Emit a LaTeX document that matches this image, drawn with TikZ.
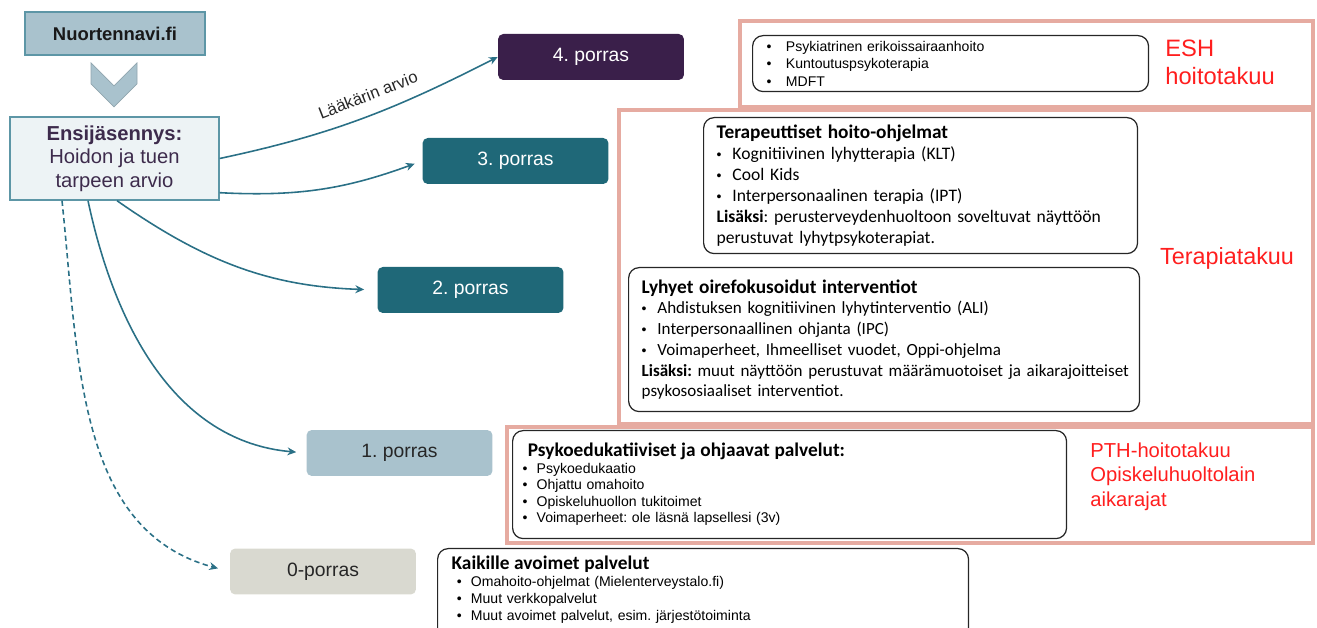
\documentclass[tikz,border=0pt]{standalone}
\usepackage{fontspec}
\setmainfont{Liberation Sans}
\newfontfamily\calfont{Carlito}
\usetikzlibrary{arrows.meta}
\frenchspacing

\definecolor{tealdark}{HTML}{1F6878}
\definecolor{arrowteal}{HTML}{2A7086}
\definecolor{plum}{HTML}{3A1F4A}
\definecolor{greyblue}{HTML}{A9C2CD}
\definecolor{stone}{HTML}{D9D9D0}
\definecolor{salmon}{HTML}{E6ABA1}
\definecolor{paleblue}{HTML}{EDF3F5}
\definecolor{edgeblue}{HTML}{5D96A6}
\definecolor{inkpurple}{HTML}{3D2B4C}
\definecolor{takuured}{HTML}{FF1E1E}

\newcommand{\bul}[1][9pt]{\makebox[#1][l]{\textbullet}}
\newcommand{\cbul}{\makebox[9pt][l]{\rmfamily\fontsize{8}{8}\selectfont\textbullet}}

\tikzset{
  porras/.style={rounded corners=3pt, minimum width=3.72cm, minimum height=0.92cm,
                 font=\fontsize{11}{13}\selectfont},
  listbox/.style={draw=black!85, line width=0.7pt, rounded corners=6pt,
                  anchor=north west, align=left, inner ysep=2pt},
  frame/.style={draw=salmon, line width=2pt},
  takuu/.style={text=takuured, align=left, inner sep=0pt},
}

\begin{document}
\begin{tikzpicture}[x=0.02cm, y=0.02cm, >={Stealth[length=5pt,width=4.5pt]}]
  \useasboundingbox (0,0) rectangle (1317,628);

  \node[draw=edgeblue, fill=greyblue, line width=0.8pt, minimum width=3.6cm, minimum height=0.86cm,
        font=\fontsize{10.5}{12}\selectfont\bfseries, text=black!90] (nav) at (115,594.5) {Nuortennavi.fi};
  \draw[fill=greyblue, draw=greyblue!85!black, line width=0.4pt]
    (91,565) -- (114,542) -- (137,565) -- (137,544) -- (114,521) -- (91,544) -- cycle;
  \node[draw=edgeblue, fill=paleblue, line width=0.8pt, minimum width=4.18cm, minimum height=1.66cm,
        align=center, text=inkpurple, font=\fontsize{11.5}{13.4}\selectfont]
       (ens) at (114.5,469.5) {\textbf{Ensijäsennys:}\\Hoidon ja tuen\\tarpeen arvio};

  \node[porras, fill=plum, text=white]       (p4) at (591,571)   {4. porras};
  \node[porras, fill=tealdark, text=white]   (p3) at (515.5,467) {3. porras};
  \node[porras, fill=tealdark, text=white]   (p2) at (470.5,338) {2. porras};
  \node[porras, fill=greyblue, text=black!85] (p1) at (399.5,175) {1. porras};
  \node[porras, fill=stone, text=black!85]   (p0) at (323,56.5)  {0-porras};

  \draw[frame] (740,607) rectangle (1313,521);
  \draw[frame] (619,518) rectangle (1313,204);
  \draw[frame] (507,201) rectangle (1313,85);

  \node[listbox, text width=7.36cm, inner xsep=0.28cm, minimum height=1.12cm,
        font=\fontsize{8}{10}\selectfont] (esh) at (752,593)
       {\bul[11pt]Psykiatrinen erikoissairaanhoito\\
        \bul[11pt]Kuntoutuspsykoterapia\\
        \bul[11pt]MDFT};

  \node[listbox, text width=8.16cm, inner xsep=0.26cm, minimum height=2.72cm,
        font=\calfont\fontsize{10}{12}\selectfont] (ter) at (703,511)
       {{\fontsize{11}{12}\selectfont\bfseries Terapeuttiset hoito-ohjelmat}\\
        \cbul Kognitiivinen lyhytterapia (KLT)\\
        \cbul Cool Kids\\
        \cbul Interpersonaalinen terapia (IPT)\\
        \mbox{\textbf{Lisäksi}: perusterveydenhuoltoon soveltuvat näyttöön}\\
        perustuvat lyhytpsykoterapiat.};

  \node[listbox, text width=9.70cm, inner xsep=0.26cm, minimum height=2.88cm,
        font=\calfont\fontsize{9.7}{11.8}\selectfont] (lyh) at (628,361)
       {{\fontsize{11}{12}\selectfont\bfseries Lyhyet oirefokusoidut interventiot}\\
        \cbul Ahdistuksen kognitiivinen lyhytinterventio (ALI)\\
        \cbul Interpersonaallinen ohjanta (IPC)\\
        \cbul Voimaperheet, Ihmeelliset vuodet, Oppi-ohjelma\\
        \mbox{\textbf{Lisäksi:} muut näyttöön perustuvat määrämuotoiset ja aikarajoitteiset}\\
        psykososiaaliset interventiot.};

  \node[listbox, text width=10.68cm, inner xsep=0.2cm, minimum height=2.16cm,
        font=\fontsize{8}{9.4}\selectfont] (psy) at (512,198)
       {{\calfont\fontsize{11}{11}\selectfont\bfseries \hspace{3pt}Psykoedukatiiviset ja ohjaavat palvelut:}\\
        \bul[8pt]Psykoedukaatio\\
        \bul[8pt]Ohjattu omahoito\\
        \bul[8pt]Opiskeluhuollon tukitoimet\\
        \bul[8pt]Voimaperheet: ole läsnä lapsellesi (3v)};

  \node[listbox, text width=10.06cm, inner xsep=0.28cm, inner ysep=4pt,
        font=\fontsize{8}{9.7}\selectfont] (kai) at (437,80)
       {{\calfont\fontsize{11}{11}\selectfont\bfseries Kaikille avoimet palvelut}\\
        \hspace{3pt}\bul[8pt]Omahoito-ohjelmat (Mielenterveystalo.fi)\\
        \hspace{3pt}\bul[8pt]Muut verkkopalvelut\\
        \hspace{3pt}\bul[8pt]Muut avoimet palvelut, esim. järjestötoiminta\\[6pt]
        \strut};

  \node[takuu, anchor=west, font=\fontsize{13.5}{16}\selectfont] (eshlbl) at (1165,566) {ESH\\hoitotakuu};
  \node[takuu, font=\fontsize{13.3}{16}\selectfont] (terlbl) at (1227,370) {Terapiatakuu};
  \node[takuu, anchor=west, font=\fontsize{11.5}{14}\selectfont] (pthlbl) at (1090,151.5)
       {PTH-hoitotakuu\\Opiskeluhuoltolain\\aikarajat};

  \path[->, arrowteal, line width=0.9pt]
    (ens.east) edge[out=12, in=207]
        node[sloped, above=4pt, pos=0.55, text=black!85, font=\fontsize{9.5}{11}\selectfont] {Lääkärin arvio} (p4.west)
    ([yshift=0.16cm]ens.south east) edge[out=-3, in=200, shorten >=0.16cm] (p3.west)
    ([xshift=0.05cm]ens.south)  edge[out=-35, in=178, shorten >=0.26cm] (p2.west)
    ([xshift=-0.53cm]ens.south) edge[out=-78, in=175, shorten >=0.2cm]  (p1.west)
    ([xshift=-1.05cm]ens.south) edge[out=-84, in=165, shorten >=0.24cm,
                                     dash pattern=on 3pt off 2pt] (p0.west);
\end{tikzpicture}
\end{document}
